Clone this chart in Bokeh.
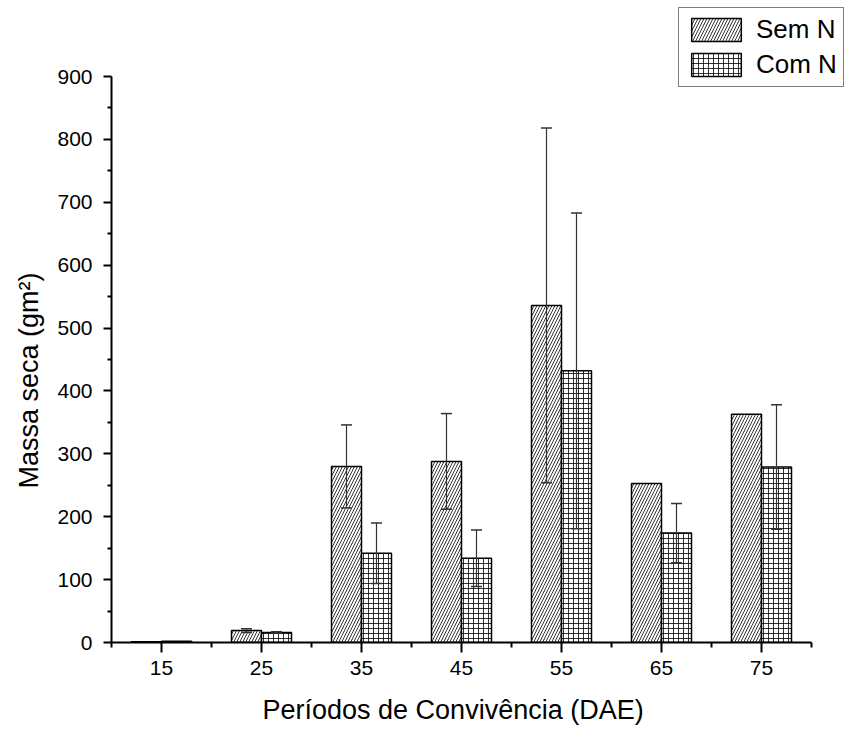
from bokeh.plotting import figure
from bokeh.models import (Range1d, FixedTicker, ColumnDataSource, Whisker, TeeHead, Legend,
                          LegendItem, Title, LinearAxis)
from bokeh.embed import file_html
from bokeh.resources import INLINE

periods = [15, 25, 35, 45, 55, 65, 75]
sem_n = [1, 19, 280, 288, 536, 253, 363]
sem_n_err = [0, 3, 66, 76, 282, 0, 0]
com_n = [2, 16, 142, 134, 432, 174, 279]
com_n_err = [0, 1, 48, 45, 251, 47, 99]
y_ticks = [0, 100, 200, 300, 400, 500, 600, 700, 800, 900]
x_minor = [10, 20, 30, 40, 50, 60, 70, 80]

BW = 3.0
FONT = "Liberation Sans"

# frame spans from x=111 to the right edge and from the top edge down to y=642;
# axes are bounded to 10..80 and 0..900
p = figure(width=851, height=729, output_backend="svg", toolbar_location=None,
           x_range=Range1d(10, 84), y_range=Range1d(0, 900 * 642 / 566),
           min_border_left=111, min_border_right=0, min_border_top=0, min_border_bottom=87)
p.outline_line_color = None
p.grid.visible = False
p.background_fill_color = "white"

sem_x = [x - BW / 2 for x in periods]
com_x = [x + BW / 2 for x in periods]

src_sem = ColumnDataSource(dict(x=sem_x, top=sem_n))
src_com = ColumnDataSource(dict(x=com_x, top=com_n))

r_sem = p.vbar(x="x", top="top", width=BW, bottom=0, source=src_sem,
               fill_color="white", line_color="black", line_width=1.5,
               hatch_pattern="/", hatch_color="black", hatch_scale=6, hatch_weight=0.8)
r_com = p.vbar(x="x", top="top", width=BW, bottom=0, source=src_com,
               fill_color="white", line_color="black", line_width=1.5,
               hatch_pattern="+", hatch_color="black", hatch_scale=5, hatch_weight=0.8)

def err_source(xs, ys, es):
    b, lo, up = [], [], []
    for x, y, e in zip(xs, ys, es):
        if e > 0:
            b.append(x); lo.append(y - e); up.append(y + e)
    return ColumnDataSource(dict(base=b, lower=lo, upper=up))

for xs, ys, es in [(sem_x, sem_n, sem_n_err), (com_x, com_n, com_n_err)]:
    w = Whisker(base="base", lower="lower", upper="upper", source=err_source(xs, ys, es),
                line_color="#333333", line_width=1.2, level="overlay",
                upper_head=TeeHead(size=11, line_color="#333333", line_width=1.5),
                lower_head=TeeHead(size=11, line_color="#333333", line_width=1.5))
    p.add_layout(w)

# axes
p.yaxis.ticker = FixedTicker(ticks=y_ticks, minor_ticks=[v + 50 for v in y_ticks[:-1]])
p.xaxis.ticker = FixedTicker(ticks=periods, minor_ticks=x_minor)
p.yaxis.bounds = (0, 900)
p.xaxis.bounds = (10, 80)
for ax in (p.xaxis, p.yaxis):
    ax.axis_line_width = 2
    ax.major_tick_line_width = 2
    ax.minor_tick_line_width = 2
    ax.major_tick_in = 0
    ax.minor_tick_in = 0
    ax.major_label_text_font = FONT
    ax.major_label_text_font_size = "21px"
    ax.major_label_text_color = "black"
p.yaxis.major_tick_out = 8
p.yaxis.minor_tick_out = 4
p.yaxis.major_label_standoff = 11
p.xaxis.major_tick_out = 10
p.xaxis.minor_tick_out = 5
p.xaxis.major_label_standoff = 8

# invisible spacer below the x axis (undrawn tick, empty label) to push the x title down
spacer = LinearAxis(ticker=FixedTicker(ticks=[50]), major_label_overrides={50: ""},
                    axis_line_color=None, major_tick_line_color=None, minor_tick_line_color=None,
                    major_tick_in=0, major_tick_out=14, minor_tick_in=0, minor_tick_out=0,
                    major_label_standoff=0, major_label_text_font_size="1px")
p.add_layout(spacer, "below")

# axis titles as side-panel titles so they can be positioned along the bounded axes
xlab = Title(text="Períodos de Convivência (DAE)", align="left", offset=151,
             text_font=FONT, text_font_size="27px", text_font_style="normal",
             text_color="black", standoff=2)
ylab = Title(text="Massa seca (gm²)", align="left", offset=154,
             text_font=FONT, text_font_size="27px", text_font_style="normal",
             text_color="black", standoff=22)
p.add_layout(xlab, "below")
p.add_layout(ylab, "left")

legend = Legend(items=[LegendItem(label="Sem N", renderers=[r_sem]),
                       LegendItem(label="Com N", renderers=[r_com])],
                location=(567, 555), orientation="vertical",
                glyph_width=62, glyph_height=29, spacing=4, padding=6, margin=0,
                label_standoff=9, label_text_font=FONT, label_text_font_size="26px",
                label_text_color="black",
                border_line_color="black", border_line_width=1.2,
                background_fill_alpha=1.0)
p.add_layout(legend, "center")

open("out.html", "w").write(file_html(p, INLINE))
